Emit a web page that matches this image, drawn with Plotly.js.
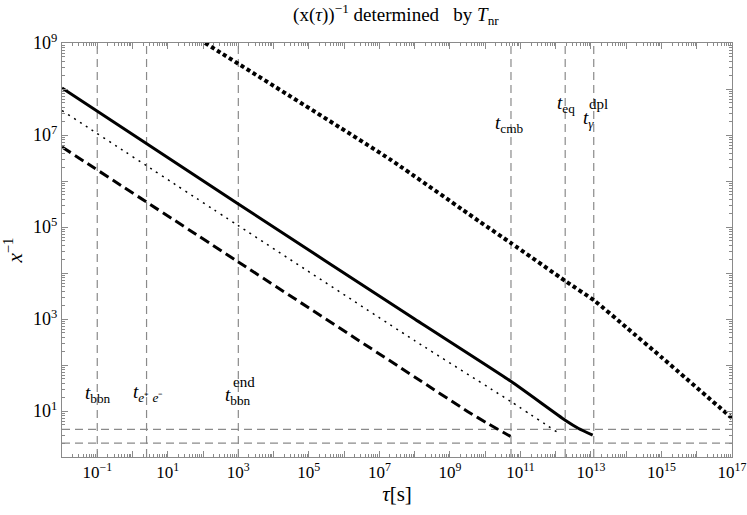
<!DOCTYPE html>
<html>
<head>
<meta charset="utf-8">
<script src="https://cdn.plot.ly/plotly-3.0.1.min.js"></script>
<style>
  html, body { margin: 0; padding: 0; background: #fff; }
  #chart { width: 747px; height: 515px; }
</style>
</head>
<body>
<div id="chart"></div>
<script>
// curves: tau [s] vs x^-1
const solidTau = [1e-2, 1e3, 1e8, 5.25e10, 1.86e12, 4.47e12, 1.12e13];
const solidVal = [1.05e8, 3.16e5, 1.0e3, 44.7, 6.3, 4.17, 2.98];

const thinDotTau = [1e-2, 1e3, 1e8, 5.25e10, 1.32e12];
const thinDotVal = [3.4e7, 1.07e5, 339, 16.2, 3.16];

const dashTau = [1e-2, 1e3, 1e8, 3.16e9, 1.26e10, 5.25e10];
const dashVal = [5.5e6, 1.74e4, 55, 9.8, 5.2, 2.8];

const thickDotTau = [1.14e2, 2.0e7, 7.16e9, 5.42e10, 1.93e12, 1.26e13, 1e14, 1e15, 1e17];
const thickDotVal = [1e9, 2.95e6, 1.29e5, 4.47e4, 6.6e3, 2.5e3, 660, 148, 7.0];

// reference times and levels
const refTimes = [0.1, 2.5, 1e3, 5.4e10, 1.86e12, 1.2e13];
const refLevels = [4, 2];

const xRange = [1e-2, 1e17];
const yRange = [1, 1e9];

const font = 'Liberation Serif, Times New Roman, serif';
const gray = '#8a8a8a';

function sup(e) {
    return '10<sup>' + (e < 0 ? '−' + (-e) : e) + '</sup>';
}

// decade ticks, label every second one
const xTickVals = [], xTickText = [];
for (let e = -2; e <= 17; e++) {
    xTickVals.push(Math.pow(10, e));
    xTickText.push(Math.abs(e) % 2 === 1 ? sup(e) : '');
}
const yTickVals = [], yTickText = [];
for (let e = 0; e <= 9; e++) {
    yTickVals.push(Math.pow(10, e));
    yTickText.push(e % 2 === 1 ? sup(e) : '');
}
function minorTicks(lo, hi) {
    const out = [];
    for (let e = lo; e < hi; e++) {
        for (let m = 2; m <= 9; m++) out.push(m * Math.pow(10, e));
    }
    return out;
}

const traces = [];

refTimes.forEach(t => {
    traces.push({
        x: [t, t], y: yRange, mode: 'lines', type: 'scatter',
        line: {color: gray, width: 1.2, dash: '8px,5px'},
        hoverinfo: 'skip', showlegend: false
    });
});
refLevels.forEach(v => {
    traces.push({
        x: xRange, y: [v, v], mode: 'lines', type: 'scatter',
        line: {color: gray, width: 1.2, dash: '8px,5px'},
        hoverinfo: 'skip', showlegend: false
    });
});

traces.push({
    x: dashTau, y: dashVal, mode: 'lines', type: 'scatter',
    line: {color: '#000', width: 3, dash: '10px,5px', shape: 'spline', smoothing: 0.5}, showlegend: false
});
traces.push({
    x: thinDotTau, y: thinDotVal, mode: 'lines', type: 'scatter',
    line: {color: '#000', width: 1.5, dash: '2px,5px', shape: 'spline', smoothing: 0.5}, showlegend: false
});
traces.push({
    x: solidTau, y: solidVal, mode: 'lines', type: 'scatter',
    line: {color: '#000', width: 3, shape: 'spline', smoothing: 0.5}, showlegend: false
});
traces.push({
    x: thickDotTau, y: thickDotVal, mode: 'lines', type: 'scatter',
    line: {color: '#000', width: 4, dash: '4px,3px', shape: 'spline', smoothing: 0.5}, showlegend: false
});

function note(xlog, ylog, text, size) {
    return {
        x: xlog, y: ylog, xref: 'x', yref: 'y', text: text, showarrow: false,
        font: {family: font, size: size || 19, color: '#000'},
        bgcolor: 'rgba(0,0,0,0)'
    };
}

const layout = {
    width: 747,
    height: 515,
    paper_bgcolor: '#fff',
    plot_bgcolor: '#fff',
    margin: {l: 62, r: 15, t: 43, b: 58},
    font: {family: font, size: 18, color: '#000'},
    title: {
        text: '(x(<i>τ</i>))<sup>−1</sup> determined   by <i>T</i><sub>nr</sub>',
        x: 0.53, xanchor: 'center', y: 0.972, yanchor: 'middle',
        font: {family: font, size: 19, color: '#000'}
    },
    xaxis: {
        type: 'log',
        range: [Math.log10(xRange[0]), Math.log10(xRange[1])],
        tickmode: 'array', tickvals: xTickVals, ticktext: xTickText,
        ticks: 'inside', ticklen: 6, tickcolor: gray, tickwidth: 1,
        minor: {tickmode: 'array', tickvals: minorTicks(-2, 17), ticks: 'inside', ticklen: 3, tickcolor: gray},
        showline: true, linecolor: gray, linewidth: 1, mirror: 'allticks',
        showgrid: false, zeroline: false,
        ticklabeloverflow: 'allow',
        tickfont: {family: font, size: 17, color: '#000'},
        title: {text: '<i>τ</i>[s]', font: {family: font, size: 21, color: '#000'}, standoff: 2}
    },
    yaxis: {
        type: 'log',
        range: [Math.log10(yRange[0]), Math.log10(yRange[1])],
        tickmode: 'array', tickvals: yTickVals, ticktext: yTickText,
        ticks: 'inside', ticklen: 6, tickcolor: gray, tickwidth: 1,
        minor: {tickmode: 'array', tickvals: minorTicks(0, 9), ticks: 'inside', ticklen: 3, tickcolor: gray},
        showline: true, linecolor: gray, linewidth: 1, mirror: 'allticks',
        showgrid: false, zeroline: false,
        tickfont: {family: font, size: 18, color: '#000'},
        title: {text: '<i>x</i><sup>−1</sup>', font: {family: font, size: 21, color: '#000'}, standoff: 10}
    },
    annotations: [
        note(-0.98, 1.38, '<i>t</i><sub>bbn</sub>'),
        note(0.45, 1.4, '<i>t</i><sub><i>e</i>⁺ <i>e</i>⁻</sub>'),
        note(2.98, 1.32, '<i>t</i><sub>bbn</sub>'),
        note(3.16, 1.63, 'end', 15),
        note(10.7, 7.25, '<i>t</i><sub>cmb</sub>'),
        note(12.3, 7.67, '<i>t</i><sub>eq</sub>'),
        note(12.93, 7.35, '<i>t</i><sub><i>γ</i></sub>'),
        note(13.2, 7.68, 'dpl', 15)
    ]
};

Plotly.newPlot('chart', traces, layout, {staticPlot: true, displayModeBar: false});
</script>
</body>
</html>
